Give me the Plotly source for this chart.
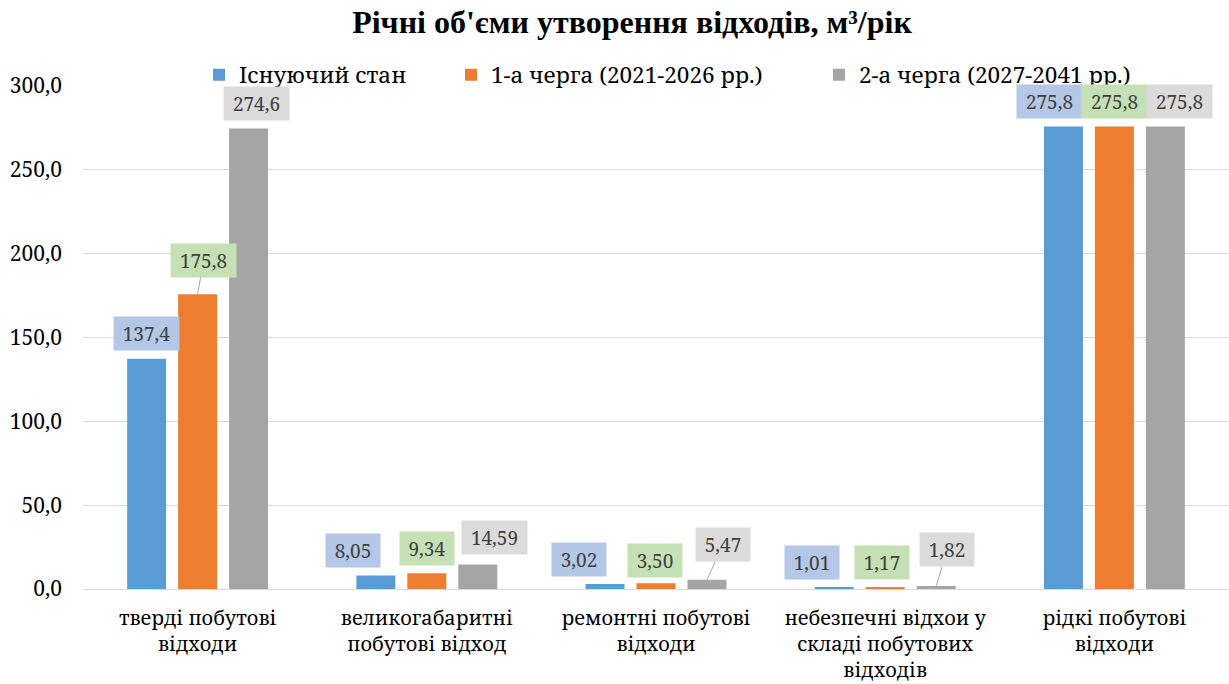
import plotly.graph_objects as go

# ---- data ----
categories = [
    "тверді побутові<br>відходи",
    "великогабаритні<br>побутові відход",
    "ремонтні побутові<br>відходи",
    "небезпечні відхои у<br>складі побутових<br>відходів",
    "рідкі побутові<br>відходи",
]
series_names = ["Існуючий стан", "1-а черга (2021-2026 рр.)", "2-а черга (2027-2041 рр.)"]
existing = [137.4, 8.05, 3.02, 1.01, 275.8]
stage1 = [175.8, 9.34, 3.50, 1.17, 275.8]
stage2 = [274.6, 14.59, 5.47, 1.82, 275.8]
label_decimals = [1, 2, 2, 2, 1]
y_ticks = [0, 50, 100, 150, 200, 250, 300]

# ---- styling ----
bar_colors = ["#5B9BD5", "#ED7D31", "#A5A5A5"]
label_box_colors = ["#B4C7E7", "#C5E0B4", "#DBDBDB"]
FONT = "Noto Serif, DejaVu Serif, serif"
TITLE_FONT = "Liberation Serif, Times New Roman, serif"
BARGAP = 0.333

# label offsets (pixels) from bar top centre: (dx, dy, leader line?)
label_offsets = [
    [(0, -25, False), (-23, -25, False), (-26, -24, False), (-22, -25, False), (-14, -25, False)],
    [(6, -34, True), (0, -25, False), (-1, -23, False), (-3, -25, False), (0, -25, False)],
    [(8, -25, False), (17, -27, False), (16, -35, True), (11, -36, True), (14, -25, False)],
]

all_series = [existing, stage1, stage2]
legend_x_px = [213, 465, 833]

fig = go.Figure()
for i, (name, vals) in enumerate(zip(series_names, all_series)):
    lg = "legend" if i == 0 else f"legend{i+1}"
    fig.add_trace(go.Bar(
        x=categories, y=vals, name=name,
        marker=dict(color=bar_colors[i], line=dict(width=0)),
        legend=lg, hoverinfo="skip",
    ))

slot = (1 - BARGAP) / 3
for i, vals in enumerate(all_series):
    for j, v in enumerate(vals):
        txt = f"{v:.{label_decimals[j]}f}".replace(".", ",")
        dx, dy, leader = label_offsets[i][j]
        fig.add_annotation(
            x=j + (i - 1) * slot, y=v, xref="x", yref="y",
            text=txt, showarrow=True, ax=dx, ay=dy, axref="pixel", ayref="pixel",
            arrowhead=0, arrowwidth=1,
            arrowcolor="#A6A6A6" if leader else "rgba(0,0,0,0)",
            bgcolor=label_box_colors[i], borderpad=0,
            width=11 * len(txt) + 10, height=33,
            font=dict(family=FONT, size=19, color="#404040"),
        )

W, H = 1229, 684
ML, MR, MT, MB = 83, 0, 86, 95

legends = {}
for i in range(3):
    key = "legend" if i == 0 else f"legend{i+1}"
    legends[key] = dict(
        x=(legend_x_px[i] - 14) / W, xanchor="left", xref="container",
        y=1 - 75 / H, yanchor="middle", yref="container",
        orientation="h", bgcolor="rgba(0,0,0,0)",
        font=dict(family=FONT, size=22.5, color="#000000"),
        itemwidth=30,
    )

fig.update_layout(
    width=W, height=H,
    margin=dict(l=ML, r=MR, t=MT, b=MB, autoexpand=False),
    paper_bgcolor="white", plot_bgcolor="white",
    separators=", ",
    font=dict(family=FONT),
    barmode="group", bargap=BARGAP, bargroupgap=0.235,
    title=dict(
        text="<b>Річні об'єми утворення відходів, м³/рік</b>",
        x=632 / W, xanchor="center", xref="container",
        y=1 - 22 / H, yanchor="middle", yref="container",
        font=dict(family=TITLE_FONT, size=32, color="#000000"),
    ),
    xaxis=dict(
        showgrid=False, showline=True, linecolor="#D9D9D9", linewidth=1,
        ticks="", tickfont=dict(family=FONT, size=20, color="#000000"),
        range=[-0.5, len(categories) - 0.5], automargin=False,
        ticklabelstandoff=11,
    ),
    yaxis=dict(
        range=[0, 300], tickvals=y_ticks, tickformat=".1f",
        showgrid=True, gridcolor="#D9D9D9", gridwidth=1,
        zeroline=False, showline=False, ticks="",
        tickfont=dict(family=FONT, size=21, color="#000000"),
        ticklabelstandoff=20, automargin=False,
    ),
    showlegend=True,
    **legends,
)

fig.write_html("out.html", post_script="document.body.style.margin='0px';",
               config={"displayModeBar": False})
